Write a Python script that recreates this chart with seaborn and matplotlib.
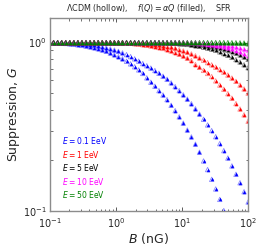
import numpy as np
import pandas as pd
import seaborn as sns
import matplotlib.pyplot as plt

nan = np.nan

# field strength grid (50 points, log spaced over 0.1 - 100 nG)
B_nG = np.logspace(-1, 2, 50)

energies = ["0.1", "1", "5", "10", "50"]
colors = ["#0000ff", "#ff0000", "#000000", "#ff00ff", "#008000"]

# suppression: "upper" (weaker) and "lower" (stronger) branch per energy
G_01_upper = [0.999, 0.998, 0.998, 0.997, 0.996, 0.994, 0.991, 0.987, 0.982, 0.976,
              0.970, 0.962, 0.953, 0.943, 0.931, 0.917, 0.902, 0.886, 0.868, 0.848,
              0.825, 0.800, 0.775, 0.750, 0.728, 0.705, 0.682, 0.657, 0.631, 0.605,
              0.576, 0.547, 0.518, 0.489, 0.461, 0.433, 0.404, 0.376, 0.350, 0.324,
              0.300, 0.276, 0.251, 0.228, 0.206, 0.185, 0.165, 0.147, 0.130, 0.113]
G_01_lower = [0.997, 0.996, 0.994, 0.991, 0.987, 0.982, 0.976, 0.969, 0.961, 0.952,
              0.942, 0.931, 0.918, 0.903, 0.886, 0.866, 0.846, 0.824, 0.800, 0.774,
              0.747, 0.718, 0.688, 0.655, 0.617, 0.581, 0.550, 0.518, 0.488, 0.458,
              0.424, 0.394, 0.362, 0.332, 0.302, 0.275, 0.249, 0.223, 0.198, 0.176,
              0.154, 0.135, 0.117, 0.1005, nan, nan, nan, nan, nan, nan]
G_1_upper = [0.999, 0.999, 0.999, 0.999, 0.999, 0.999, 0.999, 0.999, 0.999, 0.999,
             0.999, 0.999, 0.999, 0.999, 0.999, 0.999, 0.999, 0.998, 0.998, 0.997,
             0.996, 0.995, 0.992, 0.989, 0.984, 0.978, 0.972, 0.965, 0.957, 0.947,
             0.936, 0.923, 0.908, 0.892, 0.875, 0.856, 0.834, 0.810, 0.785, 0.760,
             0.737, 0.714, 0.691, 0.667, 0.641, 0.615, 0.588, 0.559, 0.530, 0.501]
G_1_lower = [0.998, 0.998, 0.998, 0.998, 0.998, 0.998, 0.998, 0.998, 0.998, 0.998,
             0.998, 0.998, 0.998, 0.998, 0.998, 0.998, 0.997, 0.996, 0.995, 0.993,
             0.989, 0.984, 0.978, 0.971, 0.963, 0.955, 0.945, 0.934, 0.922, 0.907,
             0.891, 0.872, 0.852, 0.831, 0.807, 0.782, 0.740, 0.712, 0.683, 0.655,
             0.628, 0.592, 0.559, 0.528, 0.497, 0.467, 0.434, 0.403, 0.372, 0.341]
G_5_upper = [0.999, 0.999, 0.999, 0.999, 0.999, 0.999, 0.999, 0.999, 0.999, 0.999,
             0.999, 0.999, 0.999, 0.999, 0.999, 0.999, 0.999, 0.999, 0.999, 0.999,
             0.999, 0.999, 0.999, 0.999, 0.999, 0.999, 0.999, 0.999, 0.999, 0.998,
             0.998, 0.997, 0.996, 0.993, 0.990, 0.986, 0.981, 0.975, 0.968, 0.960,
             0.951, 0.941, 0.928, 0.914, 0.899, 0.882, 0.864, 0.843, 0.820, 0.795]
G_5_lower = [0.998, 0.998, 0.998, 0.998, 0.998, 0.998, 0.998, 0.998, 0.998, 0.998,
             0.998, 0.998, 0.998, 0.998, 0.998, 0.998, 0.998, 0.998, 0.998, 0.998,
             0.998, 0.998, 0.998, 0.998, 0.998, 0.998, 0.998, 0.998, 0.997, 0.995,
             0.993, 0.990, 0.985, 0.980, 0.974, 0.966, 0.958, 0.949, 0.938, 0.926,
             0.913, 0.898, 0.880, 0.860, 0.839, 0.817, 0.792, 0.766, 0.738, 0.709]
G_10_upper = [0.999, 0.999, 0.999, 0.999, 0.999, 0.999, 0.999, 0.999, 0.999, 0.999,
              0.999, 0.999, 0.999, 0.999, 0.999, 0.999, 0.999, 0.999, 0.999, 0.999,
              0.999, 0.999, 0.999, 0.999, 0.999, 0.999, 0.999, 0.999, 0.999, 0.999,
              0.999, 0.999, 0.999, 0.999, 0.998, 0.998, 0.997, 0.996, 0.993, 0.990,
              0.986, 0.980, 0.974, 0.967, 0.959, 0.950, 0.939, 0.927, 0.913, 0.897]
G_10_lower = [0.998, 0.998, 0.998, 0.998, 0.998, 0.998, 0.998, 0.998, 0.998, 0.998,
              0.998, 0.998, 0.998, 0.998, 0.998, 0.998, 0.998, 0.998, 0.998, 0.998,
              0.998, 0.998, 0.998, 0.998, 0.998, 0.998, 0.998, 0.998, 0.998, 0.998,
              0.998, 0.998, 0.998, 0.997, 0.995, 0.993, 0.990, 0.985, 0.980, 0.973,
              0.965, 0.957, 0.948, 0.937, 0.925, 0.912, 0.896, 0.878, 0.858, 0.837]
G_50_upper = [1.000, 1.000, 1.000, 1.000, 1.000, 1.000, 1.000, 1.000, 1.000, 1.000,
              1.000, 1.000, 1.000, 1.000, 1.000, 1.000, 1.000, 1.000, 1.000, 1.000,
              1.000, 1.000, 1.000, 1.000, 1.000, 1.000, 1.000, 1.000, 1.000, 1.000,
              1.000, 1.000, 1.000, 1.000, 1.000, 1.000, 1.000, 1.000, 1.000, 1.000,
              1.000, 1.000, 1.000, 1.000, 0.999, 0.998, 0.998, 0.997, 0.996, 0.994]
G_50_lower = [0.999, 0.999, 0.999, 0.999, 0.999, 0.999, 0.999, 0.999, 0.999, 0.999,
              0.999, 0.999, 0.999, 0.999, 0.999, 0.999, 0.999, 0.999, 0.999, 0.999,
              0.999, 0.999, 0.999, 0.999, 0.999, 0.999, 0.999, 0.999, 0.999, 0.999,
              0.999, 0.999, 0.999, 0.999, 0.999, 0.999, 0.999, 0.999, 0.999, 0.999,
              0.999, 0.999, 0.999, 0.999, 0.998, 0.996, 0.994, 0.991, 0.987, 0.982]

curves = {
    "0.1": (G_01_upper, G_01_lower),
    "1": (G_1_upper, G_1_lower),
    "5": (G_5_upper, G_5_lower),
    "10": (G_10_upper, G_10_lower),
    "50": (G_50_upper, G_50_lower),
}

rows = []
for E in energies:
    for branch, vals in zip(["upper", "lower"], curves[E]):
        for b, g in zip(B_nG, vals):
            rows.append({"B": b, "G": g, "E": E, "branch": branch})
df = pd.DataFrame(rows).dropna()

sns.set_theme(style="ticks")
plt.rcParams["font.family"] = ["DejaVu Sans"]
plt.rcParams["mathtext.fontset"] = "dejavusans"

fig, ax = plt.subplots(figsize=(2.62, 2.49), dpi=100)
fig.subplots_adjust(left=0.189, right=0.947, bottom=0.153, top=0.928)

for E, col in zip(energies, colors):
    sub = df[df["E"] == E]
    # hollow markers (LCDM)
    sns.scatterplot(data=sub, x="B", y="G", ax=ax, marker="^", s=10,
                    facecolors="none", edgecolor=col, linewidth=0.6,
                    alpha=0.45, legend=False)
    # filled markers (f(Q))
    sns.scatterplot(data=sub, x="B", y="G", ax=ax, marker="^", s=5,
                    color=col, edgecolor=col, linewidth=0.2, legend=False)

ax.set_xscale("log")
ax.set_yscale("log")
ax.set_xlim(0.1, 100)
ax.set_ylim(0.1, 1.4)

ax.set_xlabel("$B$ (nG)", fontsize=9, labelpad=1)
ax.set_ylabel("Suppression, $G$", fontsize=9, labelpad=1)
ax.set_title(r"$\Lambda$CDM (hollow),    $f(Q) = \alpha Q$ (filled),    SFR",
             fontsize=5.8, pad=5)

ax.tick_params(which="both", direction="in", top=True, right=True,
               labelsize=7, color="0.35", pad=2)
ax.tick_params(axis="x", which="both", pad=3.5)
ax.tick_params(which="major", length=3, width=0.7)
ax.tick_params(which="minor", length=1.8, width=0.6)
for sp in ax.spines.values():
    sp.set_color("0.55")
    sp.set_linewidth(1.0)

# energy labels in the lower-left corner
for k, (E, col) in enumerate(zip(energies, colors)):
    ax.text(0.063, 0.363 - k * 0.07, f"$E = {E}$ EeV", color=col,
            fontsize=5.5, transform=ax.transAxes, va="center", ha="left")

fig.savefig("out.png", dpi=100)
